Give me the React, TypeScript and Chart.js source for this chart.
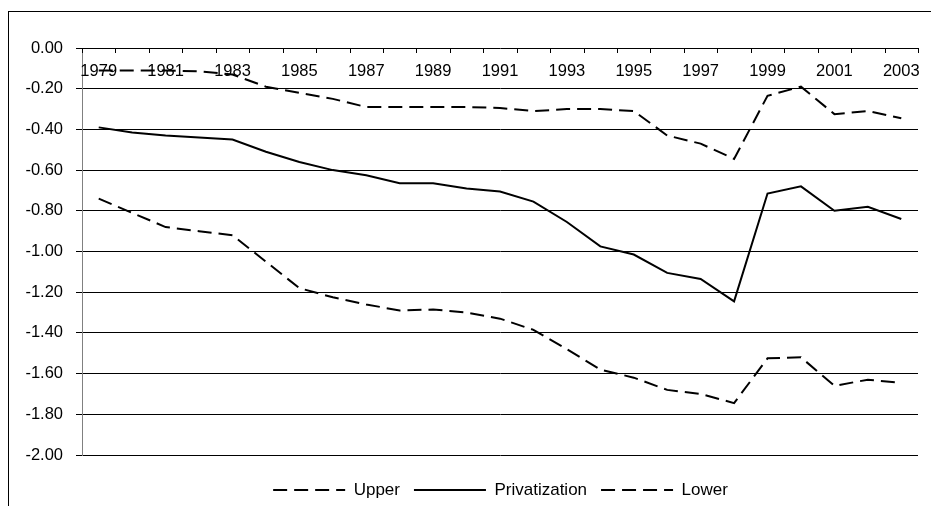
import React, { useEffect, useRef } from "react";
import { Chart, registerables } from "chart.js";

Chart.register(...registerables);

// ---- data ----
const years = [
  "1979", "1980", "1981", "1982", "1983", "1984", "1985", "1986", "1987",
  "1988", "1989", "1990", "1991", "1992", "1993", "1994", "1995", "1996",
  "1997", "1998", "1999", "2000", "2001", "2002", "2003",
];
const xTickLabels = [
  "1979", "1981", "1983", "1985", "1987", "1989", "1991", "1993", "1995",
  "1997", "1999", "2001", "2003",
];
const upper = [
  -0.11, -0.11, -0.11, -0.115, -0.13, -0.19, -0.22, -0.25, -0.29, -0.29,
  -0.29, -0.29, -0.295, -0.31, -0.3, -0.3, -0.31, -0.43, -0.47, -0.545,
  -0.235, -0.19, -0.325, -0.31, -0.345,
];
const privatization = [
  -0.39, -0.415, -0.43, -0.44, -0.45, -0.51, -0.56, -0.6, -0.625, -0.665,
  -0.665, -0.69, -0.705, -0.755, -0.855, -0.975, -1.015, -1.105, -1.135,
  -1.245, -0.715, -0.68, -0.8, -0.78, -0.84,
];
const lower = [
  -0.74, -0.81, -0.88, -0.9, -0.92, -1.05, -1.18, -1.225, -1.26, -1.29,
  -1.285, -1.3, -1.33, -1.385, -1.48, -1.58, -1.62, -1.68, -1.7, -1.745,
  -1.525, -1.52, -1.66, -1.63, -1.645,
];
const seriesNames = ["Upper", "Privatization", "Lower"];
const yMin = -2;
const yMax = 0;
const yStep = 0.2;

const FONT = "'Liberation Sans', Arial, Helvetica, sans-serif";

const topCategoryAxis = {
  id: "topCategoryAxis",
  beforeDatasetsDraw(chart: any) {
    const xs = chart.scales.x;
    const ys = chart.scales.y;
    const ctx = chart.ctx;
    const y0 = Math.round(ys.getPixelForValue(0));
    const n = years.length;
    const step = xs.width / n;
    ctx.save();
    ctx.strokeStyle = "#000";
    ctx.lineWidth = 1;
    ctx.beginPath();
    for (let i = 0; i <= n; i++) {
      const px = Math.round(xs.left + i * step) + 0.5;
      ctx.moveTo(px, y0);
      ctx.lineTo(px, y0 + 5);
    }
    ctx.stroke();
    ctx.fillStyle = "#000";
    ctx.font = `16.5px ${FONT}`;
    ctx.textAlign = "center";
    ctx.textBaseline = "alphabetic";
    xTickLabels.forEach((lbl) => {
      const i = years.indexOf(lbl);
      ctx.fillText(lbl, xs.getPixelForValue(i), y0 + 28);
    });
    ctx.restore();
  },
};

export default function App() {
  const ref = useRef<HTMLCanvasElement | null>(null);

  useEffect(() => {
    if (!ref.current) return;
    const chart = new Chart(ref.current, {
      type: "line",
      data: {
        labels: years,
        datasets: [
          {
            label: seriesNames[0],
            data: upper,
            borderColor: "#000",
            backgroundColor: "#000",
            borderWidth: 2,
            borderDash: [14, 7],
            pointRadius: 0,
            tension: 0,
            fill: false,
          },
          {
            label: seriesNames[1],
            data: privatization,
            borderColor: "#000",
            backgroundColor: "#000",
            borderWidth: 2,
            pointRadius: 0,
            tension: 0,
            fill: false,
          },
          {
            label: seriesNames[2],
            data: lower,
            borderColor: "#000",
            backgroundColor: "#000",
            borderWidth: 2,
            borderDash: [14, 7],
            pointRadius: 0,
            tension: 0,
            fill: false,
          },
        ],
      },
      options: {
        responsive: false,
        animation: false,
        layout: { padding: { top: 48, left: 0, right: 0, bottom: 11.5 } },
        scales: {
          x: {
            type: "category",
            position: "bottom",
            offset: true,
            ticks: { display: false },
            grid: { display: false },
            border: { display: false },
            afterFit: (s: any) => {
              s.height = 12.5;
            },
          },
          y: {
            type: "linear",
            position: "left",
            min: yMin,
            max: yMax,
            ticks: {
              stepSize: yStep,
              callback: (v: any) => Number(v).toFixed(2),
              font: { size: 16.5, family: FONT },
              color: "#000",
              padding: 13,
            },
            grid: { color: "#000", lineWidth: 1, tickLength: 6, drawTicks: true },
            border: { color: "#808080", width: 1 },
            afterFit: (s: any) => {
              s.width = 82;
            },
          },
          yPad: {
            type: "linear",
            axis: "y",
            position: "right",
            display: true,
            ticks: { display: false },
            grid: { display: false },
            border: { display: false },
            afterFit: (s: any) => {
              s.width = 83;
            },
          },
        },
        plugins: {
          legend: {
            position: "bottom",
            labels: {
              usePointStyle: true,
              pointStyle: "line",
              pointStyleWidth: 72,
              padding: 14,
              color: "#000",
              font: { size: 17, family: FONT },
              generateLabels: (c: any) => {
                const items = Chart.defaults.plugins.legend.labels.generateLabels(c);
                return items.map((it: any) => {
                  const ds = c.data.datasets[it.datasetIndex];
                  return {
                    ...it,
                    lineDash: ds.borderDash || [],
                    lineWidth: ds.borderWidth,
                    strokeStyle: ds.borderColor,
                    pointStyle: "line",
                  };
                });
              },
            },
          },
          tooltip: { enabled: false },
          title: { display: false },
        },
      } as any,
      plugins: [topCategoryAxis],
    });
    return () => chart.destroy();
  }, []);

  return (
    <div
      style={{
        position: "absolute",
        left: 0,
        top: 0,
        width: 931,
        height: 506,
        overflow: "hidden",
        background: "#fff",
      }}
    >
      <canvas
        ref={ref}
        width={1001}
        height={520}
        style={{ position: "absolute", left: 0, top: 0, width: 1001, height: 520 }}
      />
      <div
        style={{
          position: "absolute",
          left: 8,
          top: 11,
          width: 1200,
          height: 800,
          border: "1px solid #000",
          pointerEvents: "none",
        }}
      />
    </div>
  );
}
